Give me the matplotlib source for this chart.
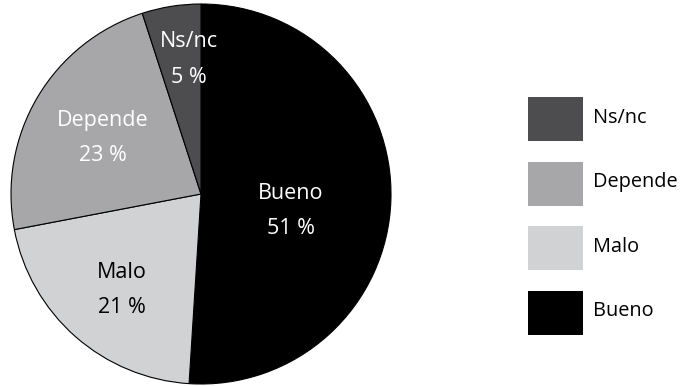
import numpy as np
import matplotlib.pyplot as plt
from matplotlib.patches import Rectangle

plt.rcParams['font.family'] = ['Open Sans', 'DejaVu Sans']

labels = ['Bueno', 'Malo', 'Depende', 'Ns/nc']
values = [51, 21, 23, 5]
colors = ['#000000', '#d1d2d4', '#a7a7a9', '#4d4d4f']
text_colors = ['white', 'black', 'white', 'white']
# where each label sits: distance from centre and a nudge off the mid angle (degrees)
label_radius = [0.48, 0.655, 0.595, 0.71]
label_turn = [-8.9, 1.9, 0.8, -3.9]
legend_order = ['Ns/nc', 'Depende', 'Malo', 'Bueno']

W, H = 682, 387
fig = plt.figure(figsize=(W / 100, H / 100), dpi=100)

ax = fig.add_axes([11 / W, 3 / H, 380 / W, 380 / H])
wedges, _ = ax.pie(values, colors=colors, startangle=90, counterclock=False,
                   radius=1.0, wedgeprops=dict(edgecolor='black', linewidth=0.8))
ax.set_xlim(-1.0, 1.0)
ax.set_ylim(-1.0, 1.0)
ax.set_aspect('equal')
ax.axis('off')

for w, lab, val, tc, r, turn in zip(wedges, labels, values, text_colors,
                                    label_radius, label_turn):
    mid = np.deg2rad((w.theta1 + w.theta2) / 2 + turn)
    x, y = r * np.cos(mid), r * np.sin(mid)
    ax.text(x, y + 0.093, lab, color=tc, fontsize=15.5, ha='center', va='center')
    ax.text(x, y - 0.093, f'{val} %', color=tc, fontsize=15.5, ha='center', va='center')

# legend boxes on the right
lax = fig.add_axes([0, 0, 1, 1])
lax.set_xlim(0, W)
lax.set_ylim(H, 0)
lax.axis('off')
color_of = dict(zip(labels, colors))
for i, lab in enumerate(legend_order):
    top = 97 + i * 64.5
    lax.add_patch(Rectangle((528, top), 55, 44, facecolor=color_of[lab], edgecolor='none'))
    lax.text(593, top + 21, lab, fontsize=14.3, ha='left', va='center', color='black')

fig.savefig('out.png', dpi=100)
